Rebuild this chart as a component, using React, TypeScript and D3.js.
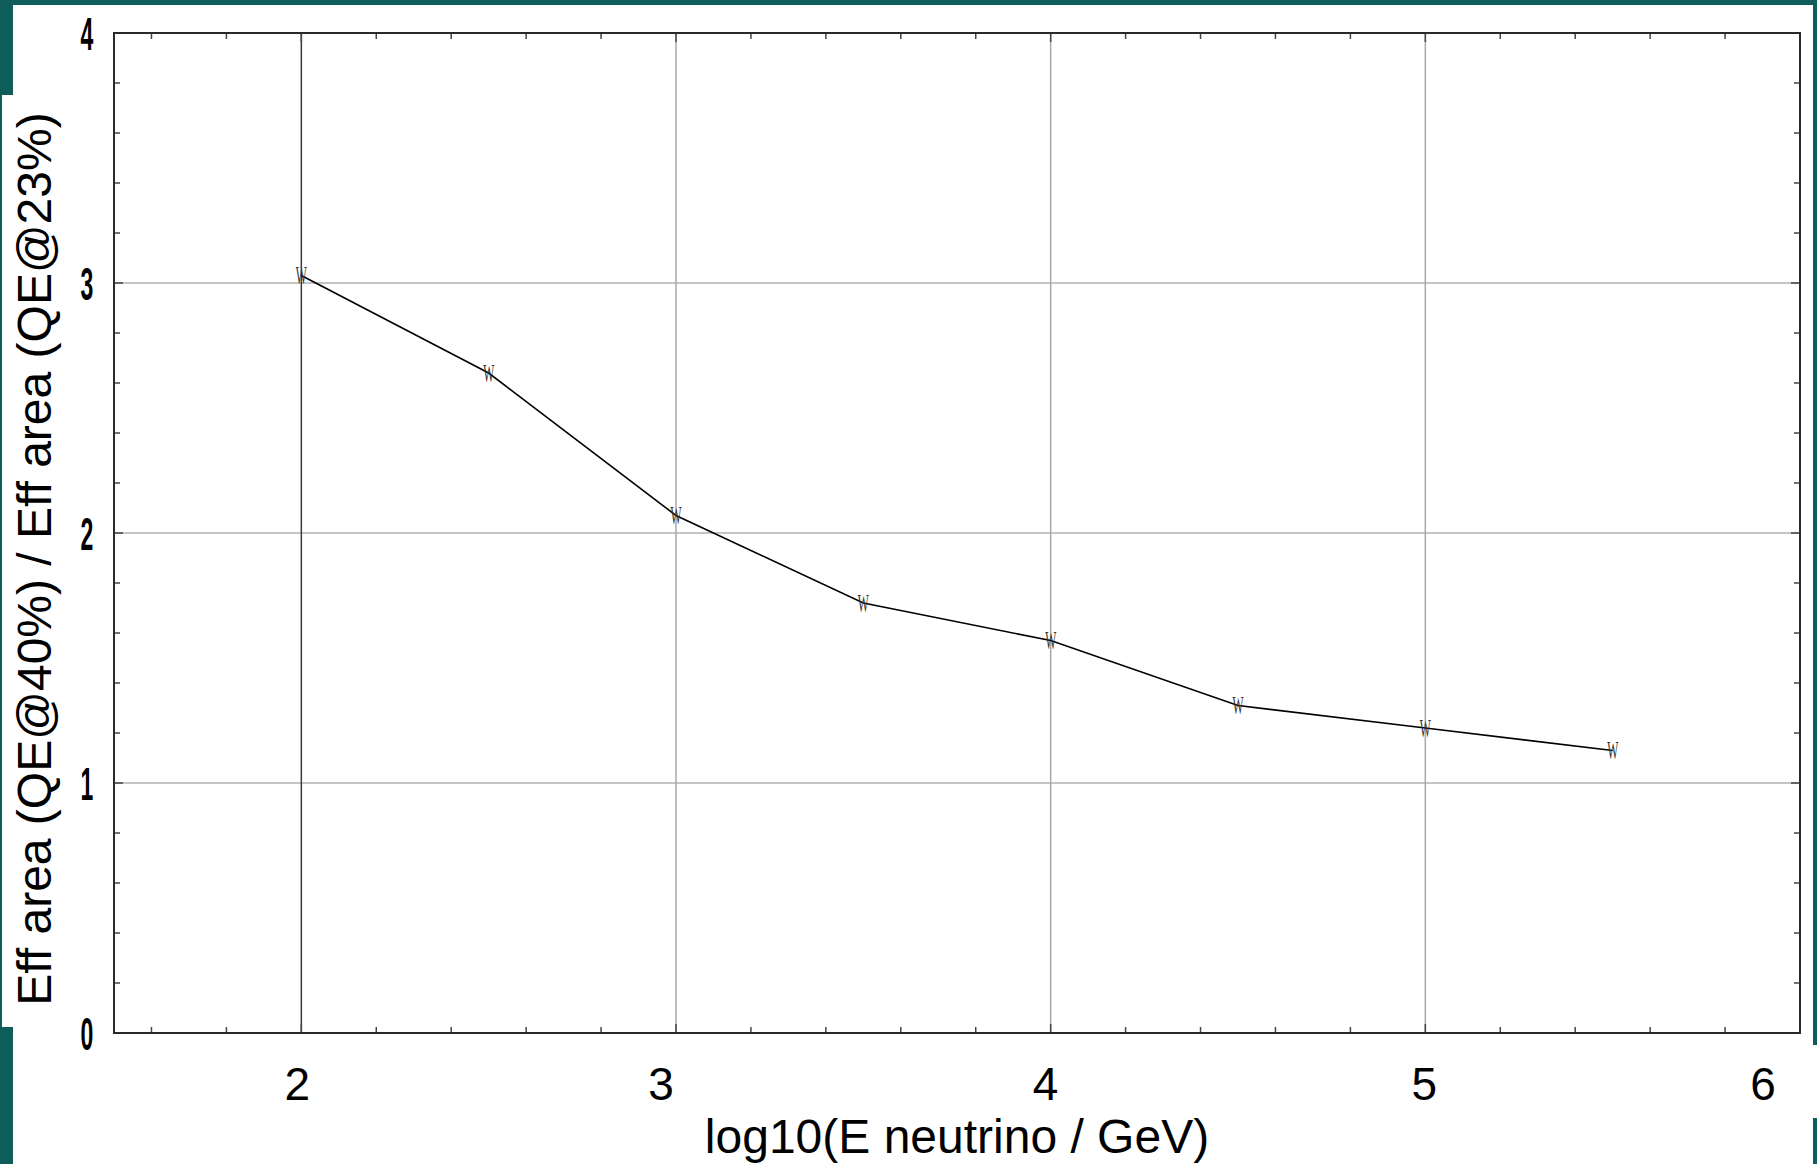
import React from "react";
import * as d3 from "d3";

const energyLog10 = [2, 2.5, 3, 3.5, 4, 4.5, 5, 5.5];
const areaRatio = [3.03, 2.64, 2.07, 1.72, 1.57, 1.31, 1.22, 1.13];
const xTickValues = [2, 3, 4, 5, 6];
const yTickValues = [0, 1, 2, 3, 4];
const xTitle = "log10(E neutrino / GeV)";
const yTitle = "Eff area (QE@40%) / Eff area (QE@23%)";

const W = 1817;
const H = 1164;
const plot = { left: 114, top: 33, right: 1800, bottom: 1033 };
const xLabelNudge = [-4, -15, -5, -1, -37];

export default function App() {
  const x = d3.scaleLinear().domain([1.5, 6]).range([plot.left, plot.right]);
  const y = d3.scaleLinear().domain([0, 4]).range([plot.bottom, plot.top]);
  const line = d3
    .line<number>()
    .x((_, i) => x(energyLog10[i]))
    .y((d) => y(d));

  const xMinor = d3.range(1.6, 6.0001, 0.2).map((v) => +v.toFixed(2));
  const yMinor = d3.range(0.2, 4.0001, 0.2).map((v) => +v.toFixed(2));

  return (
    <svg
      width={W}
      height={H}
      style={{ position: "absolute", left: 0, top: 0, display: "block" }}
    >
      {/* slide background */}
      <rect x={0} y={0} width={W} height={H} fill="#0f5d5a" />
      <rect x={13} y={5} width={1800} height={H - 5} fill="#ffffff" />
      <rect x={2} y={95} width={12} height={932} fill="#ffffff" />
      <rect x={1812} y={1045} width={6} height={73} fill="#ffffff" />

      {/* horizontal grid */}
      {yTickValues
        .filter((v) => v > 0 && v < 4)
        .map((v) => (
          <line
            key={"hg" + v}
            x1={plot.left}
            x2={plot.right}
            y1={y(v)}
            y2={y(v)}
            stroke="#b0b0b0"
            strokeWidth={1.5}
          />
        ))}
      {/* vertical grid */}
      {xTickValues
        .filter((v) => v < 6)
        .map((v) => (
          <line
            key={"vg" + v}
            x1={x(v)}
            x2={x(v)}
            y1={plot.top}
            y2={plot.bottom}
            stroke={v === 2 ? "#3a3a3a" : "#a8a8a8"}
            strokeWidth={1.5}
          />
        ))}

      {/* minor ticks */}
      {xMinor.map((v) => {
        const major = Math.abs(v - Math.round(v)) < 1e-6;
        const len = major ? 9 : 6;
        return (
          <g key={"xt" + v}>
            <line x1={x(v)} x2={x(v)} y1={plot.bottom} y2={plot.bottom - len} stroke="#444" strokeWidth={1.5} />
            <line x1={x(v)} x2={x(v)} y1={plot.top} y2={plot.top + len} stroke="#444" strokeWidth={1.5} />
          </g>
        );
      })}
      {yMinor.map((v) => {
        const major = Math.abs(v - Math.round(v)) < 1e-6;
        const len = major ? 9 : 6;
        return (
          <g key={"yt" + v}>
            <line x1={plot.left} x2={plot.left + len} y1={y(v)} y2={y(v)} stroke="#444" strokeWidth={1.5} />
            <line x1={plot.right} x2={plot.right - len} y1={y(v)} y2={y(v)} stroke="#444" strokeWidth={1.5} />
          </g>
        );
      })}

      {/* frame */}
      <rect
        x={plot.left}
        y={plot.top}
        width={plot.right - plot.left}
        height={plot.bottom - plot.top}
        fill="none"
        stroke="#2a2a2a"
        strokeWidth={2}
      />

      {/* data line */}
      <path d={line(areaRatio) || ""} fill="none" stroke="#000" strokeWidth={1.6} />

      {/* markers */}
      {areaRatio.map((v, i) => (
        <text
          key={"m" + i}
          transform={`translate(${x(energyLog10[i])},${y(v)}) scale(0.45,1)`}
          textAnchor="middle"
          dy="0.34em"
          fontFamily="Liberation Serif"
          fontSize={26}
          fill="#333"
        >
          W
        </text>
      ))}

      {/* y tick labels */}
      {yTickValues.map((v) => (
        <text
          key={"yl" + v}
          transform={`translate(87,${y(v)}) scale(0.5,1)`}
          textAnchor="middle"
          dy="0.36em"
          fontFamily="Liberation Sans"
          fontWeight="bold"
          fontSize={46}
          fill="#000"
        >
          {v}
        </text>
      ))}

      {/* x tick labels */}
      {xTickValues.map((v, i) => (
        <text
          key={"xl" + v}
          x={x(v) + xLabelNudge[i]}
          y={1100}
          textAnchor="middle"
          fontFamily="Liberation Sans"
          fontSize={46}
          fill="#000"
        >
          {v}
        </text>
      ))}

      {/* axis titles */}
      <text
        x={957}
        y={1153}
        textAnchor="middle"
        fontFamily="Liberation Sans"
        fontSize={48}
        fill="#000"
      >
        {xTitle}
      </text>
      <text
        transform={`translate(51,559) rotate(-90)`}
        textAnchor="middle"
        fontFamily="Liberation Sans"
        fontSize={48}
        fill="#000"
      >
        {yTitle}
      </text>
    </svg>
  );
}
